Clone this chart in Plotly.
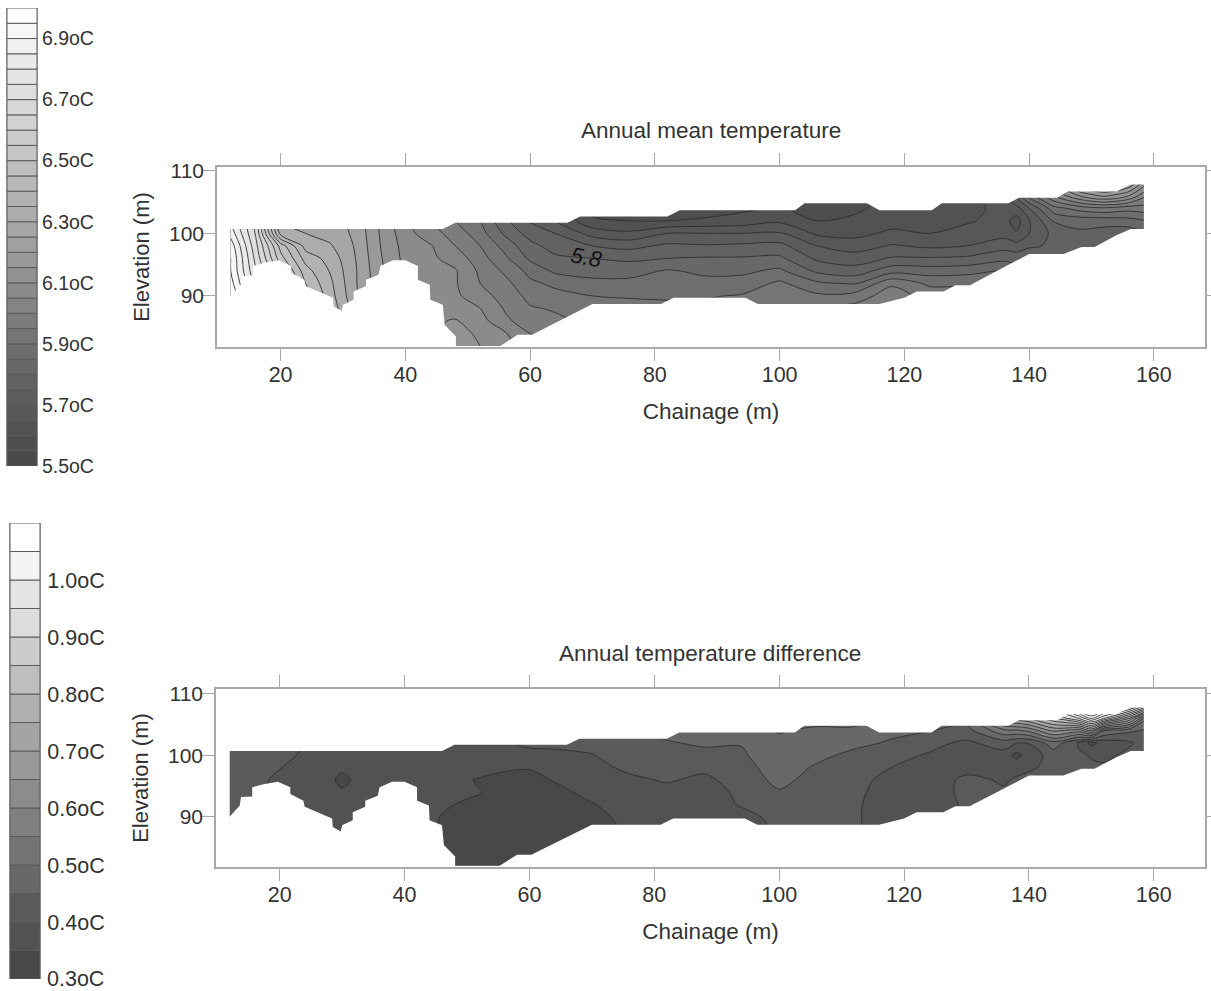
import plotly.graph_objects as go

W, H = 1211, 991
GREY = "#a9a9a9"
TXT = "#333333"
FONT = "Liberation Sans, Arial, sans-serif"

elevations = [82, 84, 86, 88, 90, 92, 94, 96, 98, 100, 102, 104, 106, 108]

# Annual mean temperature, read column by column (bottom to top of section)
mean_x = [12, 16, 20, 24, 28, 32, 36, 40, 44, 48, 52, 56, 60, 64, 70, 76, 82, 88, 94, 100, 106, 112,
          118, 124, 130, 136, 138, 140, 144, 148, 152, 156, 159]
mean_cols = [
    [7.0, 7.0, 7.0, 7.0, 7.0, 6.97, 6.95, 6.95, 6.93, 6.88, 6.85, 6.85, 6.85, 6.85],
    [6.88, 6.86, 6.84, 6.82, 6.80, 6.78, 6.755, 6.735, 6.715, 6.695, 6.68, 6.67, 6.66, 6.65],
    [6.74, 6.72, 6.7, 6.68, 6.65, 6.62, 6.58, 6.52, 6.48, 6.33, 6.3, 6.3, 6.3, 6.3],
    [6.56, 6.54, 6.52, 6.5, 6.48, 6.45, 6.42, 6.38, 6.33, 6.3, 6.27, 6.26, 6.26, 6.26],
    [6.42, 6.41, 6.4, 6.385, 6.37, 6.36, 6.345, 6.33, 6.305, 6.28, 6.27, 6.26, 6.26, 6.26],
    [6.28, 6.28, 6.27, 6.27, 6.26, 6.255, 6.255, 6.25, 6.245, 6.24, 6.235, 6.23, 6.23, 6.23],
    [6.18, 6.18, 6.18, 6.175, 6.17, 6.165, 6.16, 6.155, 6.15, 6.145, 6.14, 6.13, 6.13, 6.13],
    [6.1, 6.1, 6.1, 6.1, 6.1, 6.1, 6.09, 6.085, 6.08, 6.07, 6.06, 6.05, 6.05, 6.05],
    [6.1, 6.09, 6.09, 6.08, 6.08, 6.07, 6.07, 6.06, 6.055, 6.02, 6.0, 5.98, 5.98, 5.98],
    [6.12, 6.12, 6.105, 6.07, 6.06, 6.055, 6.055, 6.03, 6.0, 5.98, 5.95, 5.93, 5.93, 5.93],
    [6.1, 6.09, 6.07, 6.05, 6.02, 6.0, 5.99, 5.97, 5.95, 5.92, 5.9, 5.88, 5.88, 5.88],
    [6.07, 6.055, 6.01, 5.995, 5.98, 5.965, 5.94, 5.91, 5.88, 5.84, 5.81, 5.79, 5.78, 5.78],
    [6.02, 6.0, 5.975, 5.955, 5.935, 5.91, 5.885, 5.84, 5.815, 5.78, 5.745, 5.72, 5.71, 5.71],
    [6.0, 5.98, 5.96, 5.945, 5.915, 5.89, 5.84, 5.81, 5.78, 5.75, 5.7, 5.68, 5.67, 5.67],
    [5.98, 5.96, 5.94, 5.92, 5.9, 5.865, 5.83, 5.8, 5.75, 5.68, 5.61, 5.58, 5.57, 5.57],
    [5.97, 5.96, 5.945, 5.92, 5.895, 5.865, 5.83, 5.79, 5.735, 5.66, 5.6, 5.58, 5.57, 5.57],
    [5.96, 5.95, 5.93, 5.91, 5.895, 5.875, 5.855, 5.8, 5.76, 5.7, 5.6, 5.57, 5.56, 5.56],
    [5.96, 5.95, 5.935, 5.915, 5.895, 5.865, 5.84, 5.805, 5.755, 5.7, 5.61, 5.57, 5.56, 5.56],
    [5.97, 5.96, 5.945, 5.925, 5.905, 5.87, 5.84, 5.805, 5.76, 5.7, 5.62, 5.59, 5.58, 5.58],
    [5.97, 5.96, 5.95, 5.93, 5.92, 5.91, 5.86, 5.81, 5.765, 5.705, 5.64, 5.61, 5.6, 5.6],
    [6.02, 6.0, 5.98, 5.96, 5.91, 5.86, 5.79, 5.74, 5.7, 5.64, 5.6, 5.57, 5.56, 5.56],
    [6.04, 6.02, 6.0, 5.97, 5.92, 5.845, 5.77, 5.725, 5.675, 5.635, 5.61, 5.59, 5.58, 5.58],
    [6.06, 6.04, 6.02, 6.0, 5.98, 5.94, 5.83, 5.755, 5.705, 5.66, 5.63, 5.62, 5.61, 5.61],
    [6.02, 6.0, 5.98, 5.96, 5.93, 5.89, 5.825, 5.755, 5.69, 5.65, 5.62, 5.61, 5.6, 5.6],
    [6.0, 5.98, 5.96, 5.94, 5.92, 5.895, 5.83, 5.76, 5.7, 5.665, 5.645, 5.63, 5.63, 5.63],
    [5.98, 5.96, 5.95, 5.94, 5.93, 5.9, 5.85, 5.785, 5.73, 5.68, 5.665, 5.67, 5.69, 5.72],
    [5.97, 5.96, 5.95, 5.94, 5.92, 5.89, 5.83, 5.78, 5.72, 5.655, 5.63, 5.68, 5.77, 5.86],
    [5.96, 5.95, 5.94, 5.93, 5.91, 5.88, 5.84, 5.8, 5.74, 5.7, 5.695, 5.75, 5.87, 5.95],
    [5.9, 5.89, 5.88, 5.87, 5.85, 5.82, 5.78, 5.76, 5.76, 5.765, 5.805, 5.88, 6.0, 6.1],
    [5.88, 5.87, 5.86, 5.85, 5.84, 5.81, 5.78, 5.77, 5.77, 5.79, 5.82, 5.92, 6.1, 6.25],
    [5.85, 5.84, 5.83, 5.82, 5.81, 5.79, 5.78, 5.77, 5.77, 5.78, 5.82, 5.94, 6.16, 6.3],
    [5.82, 5.81, 5.8, 5.8, 5.79, 5.78, 5.77, 5.76, 5.76, 5.77, 5.83, 5.92, 6.1, 6.25],
    [5.82, 5.81, 5.8, 5.8, 5.79, 5.78, 5.77, 5.77, 5.78, 5.8, 5.85, 5.93, 6.0, 6.1],
]

# Annual temperature difference
diff_x = [12, 16, 20, 24, 28, 30, 32, 36, 40, 44, 48, 52, 56, 60, 64, 70, 76, 82, 88, 94, 100, 106, 112,
          118, 124, 130, 136, 138, 140, 144, 148, 150, 152, 156, 159]
diff_cols = [
    [.44, .44, .44, .44, .43, .43, .43, .43, .43, .43, .43, .43, .43, .43],
    [.43, .43, .43, .42, .42, .42, .42, .42, .42, .43, .43, .43, .43, .43],
    [.39, .39, .39, .39, .385, .385, .38, .385, .402, .42, .43, .43, .43, .43],
    [.38, .38, .38, .38, .38, .38, .38, .38, .385, .39, .4, .41, .41, .41],
    [.37, .37, .37, .37, .37, .37, .365, .365, .37, .38, .39, .4, .4, .4],
    [.37, .37, .37, .37, .37, .37, .36, .33, .365, .38, .39, .4, .4, .4],
    [.37, .37, .37, .37, .37, .37, .365, .36, .37, .38, .39, .4, .4, .4],
    [.38, .38, .38, .38, .38, .38, .38, .38, .38, .385, .39, .4, .4, .4],
    [.37, .37, .37, .37, .37, .37, .375, .38, .38, .385, .39, .4, .4, .4],
    [.36, .36, .36, .36, .36, .365, .37, .375, .38, .385, .39, .395, .4, .4],
    [.32, .32, .325, .33, .335, .35, .36, .365, .375, .385, .39, .39, .39, .39],
    [.31, .31, .32, .32, .33, .34, .352, .345, .375, .385, .39, .39, .39, .39],
    [.31, .31, .315, .32, .325, .33, .335, .34, .355, .385, .395, .4, .4, .4],
    [.31, .31, .315, .32, .325, .33, .335, .34, .352, .385, .41, .41, .41, .41],
    [.31, .315, .32, .325, .33, .335, .34, .352, .375, .39, .41, .41, .41, .41],
    [.32, .325, .33, .335, .34, .348, .36, .37, .385, .397, .42, .42, .42, .42],
    [.34, .345, .35, .355, .36, .365, .37, .39, .41, .43, .44, .445, .45, .45],
    [.35, .355, .36, .37, .375, .38, .385, .405, .415, .43, .447, .46, .47, .47],
    [.35, .35, .35, .355, .36, .37, .38, .39, .41, .44, .455, .46, .47, .47],
    [.34, .35, .36, .37, .385, .405, .41, .42, .435, .445, .452, .46, .47, .47],
    [.41, .41, .41, .41, .415, .43, .445, .465, .47, .475, .485, .505, .48, .48],
    [.41, .41, .41, .41, .41, .415, .42, .43, .445, .46, .47, .485, .53, .53],
    [.405, .405, .405, .41, .41, .41, .415, .42, .43, .44, .46, .485, .53, .53],
    [.35, .35, .355, .36, .36, .365, .37, .38, .4, .415, .445, .46, .47, .47],
    [.36, .36, .36, .365, .365, .365, .37, .375, .38, .395, .415, .452, .47, .48],
    [.41, .41, .41, .41, .41, .41, .415, .41, .385, .375, .39, .43, .47, .5],
    [.42, .42, .42, .42, .415, .41, .405, .395, .37, .38, .425, .535, .7, .8],
    [.42, .42, .42, .42, .42, .415, .41, .405, .385, .335, .402, .54, .72, .85],
    [.42, .42, .42, .42, .42, .42, .415, .41, .395, .375, .402, .56, .75, .9],
    [.42, .42, .42, .42, .42, .42, .415, .41, .41, .42, .48, .66, .84, 1.0],
    [.42, .42, .42, .42, .42, .42, .42, .42, .42, .41, .39, .62, .95, 1.2],
    [.42, .42, .42, .42, .42, .42, .42, .42, .41, .395, .335, .7, 1.05, 1.3],
    [.42, .42, .42, .42, .42, .42, .42, .415, .41, .385, .37, .5, .95, 1.2],
    [.42, .42, .42, .42, .42, .42, .42, .42, .42, .415, .39, .46, .75, 1.1],
    [.42, .42, .42, .42, .42, .42, .42, .42, .42, .42, .43, .44, .5, .9],
]

# Outline of the surveyed section (everything outside it is blanked)
section_x = [11.8, 11.8, 46, 48, 66, 68, 82, 84, 102.5, 104, 114, 116, 124.4, 126, 136.7, 138.4, 144.5, 146.2,
             154, 156.3, 158.4, 158.4, 156.3, 154, 150.5, 148.4, 145.5, 140, 130.5, 128.2, 126.3, 122, 120, 116,
             114, 96.5, 94.5, 83, 81, 70, 60.3, 58, 54.9, 48.1, 48.1, 46.3, 46, 44, 43.9, 42, 42, 40, 38, 36,
             35.7, 33.7, 33.7, 31.7, 31.7, 30, 29.8, 28.5, 28.4, 26.5, 24, 23.8, 21.7, 21.7, 19.7, 17.4, 15.6,
             15.6, 13.8, 13.6, 11.8]
section_y = [89.8, 100.7, 100.7, 101.7, 101.7, 102.7, 102.7, 103.7, 103.7, 104.8, 104.8, 103.7, 103.7, 104.8,
             104.8, 105.7, 105.7, 106.7, 106.7, 107.8, 107.8, 100.7, 100.7, 99.7, 97.8, 97.8, 96.7, 96.7, 91.7,
             91.7, 90.7, 90.7, 89.7, 88.7, 88.7, 88.7, 89.7, 89.7, 88.7, 88.7, 83.8, 83.8, 81.8, 81.8, 83.5,
             85.4, 88.6, 89.4, 91.8, 92.6, 94.8, 95.7, 95.7, 94.8, 93.4, 92.6, 91.6, 90.7, 89.4, 88.6, 87.6,
             88.3, 89.7, 90.5, 91.6, 92.6, 93.7, 94.8, 95.7, 95.3, 94.8, 93.3, 93.2, 91.8, 89.8]
assert len(section_x) == len(section_y)

# Legend cells: lower level of each cell and its grey value
mean_levels = [5.5, 5.55, 5.6, 5.65, 5.7, 5.75, 5.8, 5.85, 5.9, 5.95, 6.0, 6.05, 6.1, 6.15, 6.2, 6.25, 6.3,
               6.35, 6.4, 6.45, 6.5, 6.55, 6.6, 6.65, 6.7, 6.75, 6.8, 6.85, 6.9, 6.95]
mean_greys = [0x4a, 0x4e, 0x52, 0x57, 0x5c, 0x62, 0x68, 0x6e, 0x75, 0x7c, 0x84, 0x8b, 0x92, 0x99, 0xa0, 0xa6,
              0xac, 0xb2, 0xb8, 0xbe, 0xc5, 0xcb, 0xd2, 0xd8, 0xde, 0xe4, 0xea, 0xf0, 0xf7, 0xfe]
mean_ticks = [5.5, 5.7, 5.9, 6.1, 6.3, 6.5, 6.7, 6.9]
mean_tick_text = ["5.5oC", "5.7oC", "5.9oC", "6.1oC", "6.3oC", "6.5oC", "6.7oC", "6.9oC"]

diff_levels = [.3, .35, .4, .45, .5, .55, .6, .65, .7, .75, .8, .85, .9, .95, 1.0, 1.05]
diff_greys = [0x48, 0x52, 0x5a, 0x68, 0x74, 0x80, 0x8c, 0x98, 0xa4, 0xb0, 0xbe, 0xcc, 0xdc, 0xe4, 0xf4, 0xff]
diff_ticks = [.4, .5, .6, .7, .8, .9, 1.0]
diff_tick_text = ["0.4oC", "0.5oC", "0.6oC", "0.7oC", "0.8oC", "0.9oC", "1.0oC"]
diff_low_value = 0.3
diff_low_text = "0.3oC"

x_ticks = [20, 40, 60, 80, 100, 120, 140, 160]
y_ticks = [90, 100, 110]
x_range = [9.8, 168.2]
mean_y_range = [81.84, 110.6]
diff_y_range = [81.8, 110.8]


def rgb(v):
    return f"rgb({v},{v},{v})"


def scale(levels, greys, step):
    lo, hi = levels[0], levels[-1] + step
    pts = [[0, rgb(greys[0])]]
    for l, g in zip(levels, greys):
        pts.append([(l + step / 2 - lo) / (hi - lo), rgb(g)])
    pts.append([1, rgb(greys[-1])])
    return pts, lo, hi


def add_section(fig, xs, cols, levels, greys, step, end, yr, xa, ya):
    cs, lo, hi = scale(levels, greys, step)
    z = [list(r) for r in zip(*cols)]
    fig.add_trace(go.Contour(
        x=xs, y=elevations, z=z, zmin=lo, zmax=hi, colorscale=cs, showscale=False,
        contours=dict(start=lo, end=end, size=step, coloring="fill"),
        line=dict(color="#303030", width=0.9, smoothing=0.9),
        xaxis=xa, yaxis=ya, hoverinfo="skip"))
    mask_x = [x_range[0], x_range[1], x_range[1], x_range[0], x_range[0]] + section_x + [x_range[0]]
    mask_y = [yr[0], yr[0], yr[1], yr[1], yr[0]] + section_y + [yr[0]]
    fig.add_trace(go.Scatter(x=mask_x, y=mask_y, mode="lines", fill="toself", fillcolor="white",
                             line=dict(width=0, color="white"), xaxis=xa, yaxis=ya,
                             hoverinfo="skip", showlegend=False))


def add_legend(fig, levels, greys, step, xa, ya):
    fig.add_trace(go.Bar(x=[0] * len(levels), y=[step] * len(levels), base=levels, width=1,
                         marker=dict(color=[rgb(g) for g in greys], line=dict(color="#5a5a5a", width=1)),
                         xaxis=xa, yaxis=ya, showlegend=False, hoverinfo="skip"))


fig = go.Figure()
add_section(fig, mean_x, mean_cols, mean_levels, mean_greys, 0.05, 7.1, mean_y_range, "x", "y")
add_section(fig, diff_x, diff_cols, diff_levels, diff_greys, 0.05, 1.3, diff_y_range, "x2", "y2")
add_legend(fig, mean_levels, mean_greys, 0.05, "x3", "y3")
add_legend(fig, diff_levels, diff_greys, 0.05, "x4", "y4")


def xd(a, b):
    return [a / W, b / W]


def yd(top, bottom):
    return [1 - bottom / H, 1 - top / H]


def xax(dom, anchor):
    return dict(domain=dom, anchor=anchor, range=x_range, tickvals=x_ticks, ticks="outside", ticklen=12,
                tickcolor=GREY, tickwidth=1.3, showline=True, linecolor=GREY, linewidth=1.5, mirror="ticks",
                showgrid=False, zeroline=False, automargin=False, ticklabelstandoff=-5,
                tickfont=dict(family=FONT, size=21.5, color=TXT),
                title=dict(text="Chainage (m)", standoff=18, font=dict(family=FONT, size=22.5, color=TXT)))


def yax(dom, anchor, r):
    return dict(domain=dom, anchor=anchor, range=r, tickvals=y_ticks, ticks="outside", ticklen=12,
                tickcolor=GREY, tickwidth=1.3, showline=True, linecolor=GREY, linewidth=1.5, mirror="ticks",
                showgrid=False, zeroline=False, automargin=False, ticklabelstandoff=-5,
                tickfont=dict(family=FONT, size=21, color=TXT),
                title=dict(text="Elevation (m)", standoff=13, font=dict(family=FONT, size=22, color=TXT)))


def leg_x(dom, anchor):
    return dict(domain=dom, anchor=anchor, range=[-0.5, 0.5], visible=False, automargin=False)


def leg_y(dom, anchor, r, tv, tt, size, standoff):
    return dict(domain=dom, anchor=anchor, range=r, side="right", tickvals=tv, ticktext=tt, ticks="",
                showgrid=False, zeroline=False, showline=True, linecolor="#8a8a8a", linewidth=1, mirror=True,
                automargin=False, tickfont=dict(family=FONT, size=size, color=TXT), ticklabelstandoff=standoff)


fig.update_layout(
    width=W, height=H, autosize=False, margin=dict(l=0, r=0, t=0, b=0),
    paper_bgcolor="white", plot_bgcolor="white", showlegend=False,
    xaxis=xax(xd(217, 1205), "y"), yaxis=yax(yd(167, 347), "x", mean_y_range),
    xaxis2=xax(xd(216, 1205), "y2"), yaxis2=yax(yd(689, 867), "x2", diff_y_range),
    xaxis3=leg_x(xd(7, 37), "y3"),
    yaxis3=leg_y(yd(8, 466), "x3", [5.5, 7.0], mean_ticks, mean_tick_text, 19.5, 0),
    xaxis4=leg_x(xd(10, 40), "y4"),
    yaxis4=leg_y(yd(523, 979), "x4", [0.3, 1.1], diff_ticks, diff_tick_text, 21.5, 2),
    annotations=[
        dict(text="Annual mean temperature", xref="paper", yref="paper", x=711 / W, y=1 - 130 / H,
             yanchor="middle", showarrow=False, font=dict(family=FONT, size=22.5, color=TXT)),
        dict(text="Annual temperature difference", xref="paper", yref="paper", x=710 / W, y=1 - 653 / H,
             yanchor="middle", showarrow=False, font=dict(family=FONT, size=22.5, color=TXT)),
        dict(text="<i>5.8</i>", xref="x", yref="y", x=69.1, y=96.2, showarrow=False, textangle=10,
             font=dict(family=FONT, size=22, color="#111111")),
        dict(text=diff_low_text, xref="paper", yref="y4", x=45 / W, y=diff_low_value, xanchor="left",
             yanchor="middle", showarrow=False, font=dict(family=FONT, size=21.5, color=TXT)),
    ],
)

fig.write_html("out.html", config={"displayModeBar": False}, post_script="document.body.style.margin='0';")
